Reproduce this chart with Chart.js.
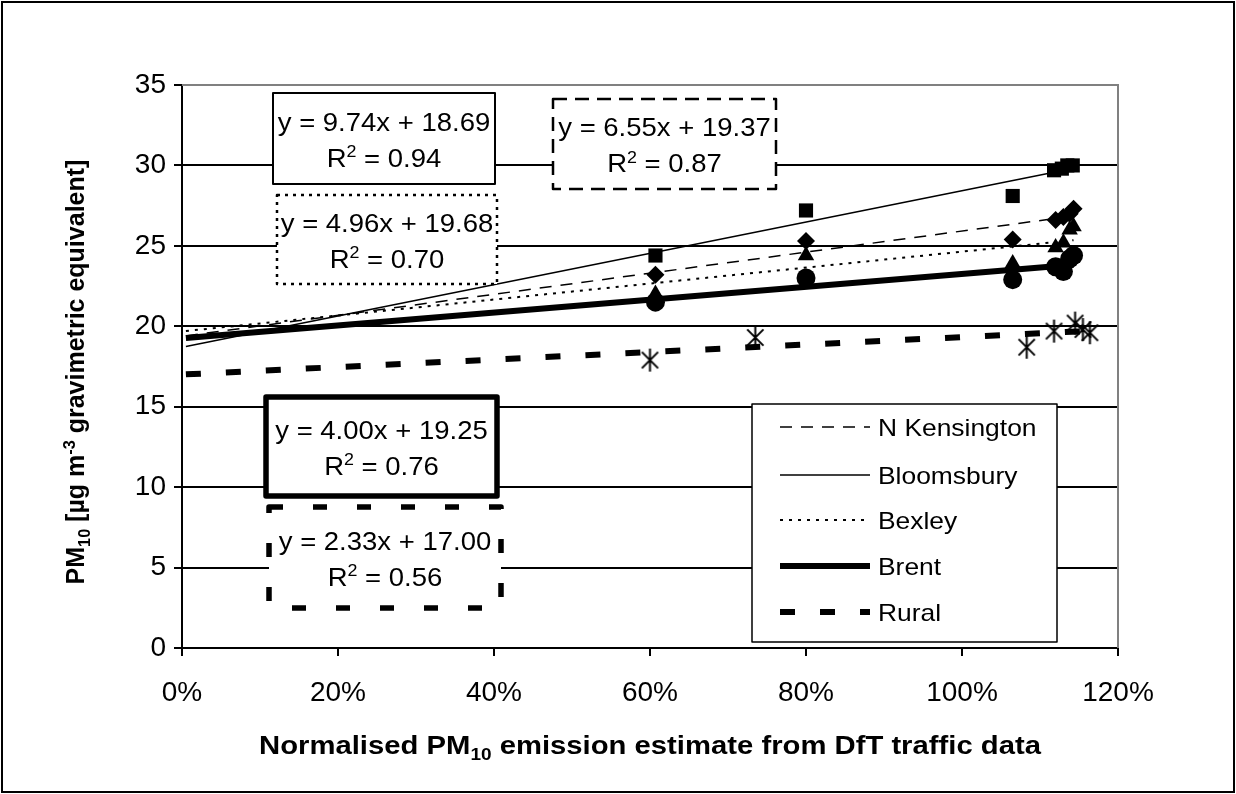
<!DOCTYPE html>
<html><head><meta charset="utf-8">
<script src="https://cdn.jsdelivr.net/npm/chart.js@4/dist/chart.umd.min.js"></script>
<style>html,body{margin:0;padding:0;background:#fff}#wrap{width:1236px;height:794px}</style>
</head><body><div id="wrap"><canvas id="c" width="1236" height="794"></canvas></div>
<script>
// ---- data (x = normalised emission estimate as fraction, y = PM10) ----
const seriesNames = ['N Kensington', 'Bloomsbury', 'Bexley', 'Brent', 'Rural'];
const kensingtonX = [0.607, 0.800, 1.065, 1.120, 1.130, 1.138, 1.143];
const kensingtonY = [23.2, 25.3, 25.4, 26.6, 26.8, 27.0, 27.3];
const bloomsburyX = [0.607, 0.800, 1.065, 1.118, 1.128, 1.135, 1.142];
const bloomsburyY = [24.4, 27.2, 28.1, 29.7, 29.8, 30.0, 30.0];
const bexleyX = [0.607, 0.800, 1.065, 1.120, 1.130, 1.138, 1.143];
const bexleyY = [22.0, 24.4, 23.9, 24.9, 25.2, 26.0, 26.2];
const brentX = [0.607, 0.800, 1.065, 1.120, 1.130, 1.138, 1.143];
const brentY = [21.5, 23.0, 22.9, 23.7, 23.4, 24.2, 24.4];
const ruralX = [0.600, 0.735, 1.083, 1.118, 1.145, 1.155, 1.164];
const ruralY = [17.9, 19.3, 18.7, 19.7, 20.2, 19.8, 19.6];
// trendline equations shown on the chart
const slopes = [6.55, 9.74, 4.96, 4.00, 2.33];
const intercepts = [19.37, 18.69, 19.68, 19.25, 17.00];
const rSquared = ['0.87', '0.94', '0.70', '0.76', '0.56'];
const trendStartX = 0.005;
const yTickValues = [0, 5, 10, 15, 20, 25, 30, 35];
const xTickValues = [0, 0.2, 0.4, 0.6, 0.8, 1.0, 1.2];

const FONT = '"Liberation Sans", Arial, sans-serif';
const xs = [kensingtonX, bloomsburyX, bexleyX, brentX, ruralX];
const ys = [kensingtonY, bloomsburyY, bexleyY, brentY, ruralY];

const lineStyles = [
  {w: 1.5, dash: [12, 9]},
  {w: 1.5, dash: []},
  {w: 2, dash: [3, 6]},
  {w: 6, dash: []},
  {w: 6, dash: [15, 25]}
];

function makeAsterisk(size) {
  const cv = document.createElement('canvas');
  cv.width = size; cv.height = size;
  const g = cv.getContext('2d');
  const c = size / 2, r = size / 2 - 1;
  g.strokeStyle = '#000'; g.lineWidth = 2;
  g.beginPath();
  g.moveTo(c, c - r); g.lineTo(c, c + r);
  const a = Math.PI / 4;
  g.moveTo(c - r * Math.cos(a), c - r * Math.sin(a)); g.lineTo(c + r * Math.cos(a), c + r * Math.sin(a));
  g.moveTo(c - r * Math.cos(a), c + r * Math.sin(a)); g.lineTo(c + r * Math.cos(a), c - r * Math.sin(a));
  g.stroke();
  return cv;
}
const markerStyles = [
  {pointStyle: 'rectRot', radius: 9},
  {pointStyle: 'rect', radius: 10},
  {pointStyle: 'triangle', radius: 9.5},
  {pointStyle: 'circle', radius: 9.5},
  {pointStyle: makeAsterisk(25), radius: 12}
];

const datasets = [];
for (let i = 0; i < 5; i++) {
  const endX = Math.max(...xs[i]);
  datasets.push({
    label: seriesNames[i] + ' trend',
    type: 'line',
    data: [trendStartX, endX].map(x => ({x: x, y: slopes[i] * x + intercepts[i]})),
    borderColor: '#000', borderWidth: lineStyles[i].w, borderDash: lineStyles[i].dash,
    pointRadius: 0, fill: false, tension: 0, order: 2, borderCapStyle: 'butt'
  });
}
for (let i = 0; i < 5; i++) {
  datasets.push({
    label: seriesNames[i],
    type: 'scatter',
    data: xs[i].map((x, k) => ({x: x, y: ys[i][k]})),
    pointStyle: markerStyles[i].pointStyle,
    pointRadius: markerStyles[i].radius,
    backgroundColor: '#000', borderColor: '#000', borderWidth: 0,
    order: 1
  });
}

// rich text with sub/superscripts and horizontal stretch sx
function drawRich(ctx, parts, x, y, size, bold, align, sx) {
  sx = sx || 1;
  const fontOf = p => (bold ? 'bold ' : '') + (p.mode === 'n' ? size : size * 0.65) + 'px ' + FONT;
  const w = parts.map(p => { ctx.font = fontOf(p); return ctx.measureText(p.t).width * sx; });
  const total = w.reduce((a, b) => a + b, 0);
  let cx = align === 'center' ? x - total / 2 : x;
  ctx.textBaseline = 'alphabetic'; ctx.textAlign = 'left';
  parts.forEach((p, i) => {
    ctx.font = fontOf(p);
    let dy = 0;
    if (p.mode === 'sub') dy = size * 0.22;
    if (p.mode === 'sup') dy = -size * 0.38;
    ctx.save();
    ctx.translate(cx, y + dy);
    ctx.scale(sx, 1);
    ctx.fillText(p.t, 0, 0);
    ctx.restore();
    cx += w[i];
  });
}

const boxes = [
  {i: 1, l: 273, t: 93, r: 495, b: 184, w: 2, dash: []},
  {i: 2, l: 277, t: 195, r: 497, b: 284, w: 2.5, dash: [3, 5]},
  {i: 0, l: 553, t: 99, r: 776, b: 189, w: 2.5, dash: [14, 8]},
  {i: 3, l: 266, t: 397, r: 497, b: 496, w: 5.5, dash: []},
  {i: 4, l: 269, t: 507, r: 501, b: 608, w: 5.5, dash: [14, 30]}
];

const decor = {
  id: 'decor',
  beforeDraw(chart) {
    const ctx = chart.ctx;
    ctx.save();
    ctx.fillStyle = '#fff';
    ctx.fillRect(0, 0, chart.width, chart.height);
    ctx.restore();
  },
  afterDraw(chart) {
    const ctx = chart.ctx;
    const a = chart.chartArea;
    ctx.save();
    ctx.strokeStyle = '#808080'; ctx.lineWidth = 2;
    ctx.beginPath();
    ctx.moveTo(a.left, a.top); ctx.lineTo(a.right, a.top); ctx.lineTo(a.right, a.bottom);
    ctx.stroke();
    ctx.strokeStyle = '#000'; ctx.lineWidth = 2;
    ctx.strokeRect(2, 2, chart.width - 4, chart.height - 4);

    boxes.forEach(bx => {
      ctx.fillStyle = '#fff';
      ctx.fillRect(bx.l, bx.t, bx.r - bx.l, bx.b - bx.t);
      ctx.strokeStyle = '#000'; ctx.lineWidth = bx.w; ctx.setLineDash(bx.dash);
      ctx.lineJoin = 'round';
      ctx.strokeRect(bx.l, bx.t, bx.r - bx.l, bx.b - bx.t);
      ctx.setLineDash([]);
      ctx.fillStyle = '#000';
      const cx = (bx.l + bx.r) / 2;
      const cy = (bx.t + bx.b) / 2;
      const eq = 'y = ' + slopes[bx.i].toFixed(2) + 'x + ' + intercepts[bx.i].toFixed(2);
      drawRich(ctx, [{t: eq, mode: 'n'}], cx, cy - 8, 25, false, 'center', 1.1);
      drawRich(ctx, [{t: 'R', mode: 'n'}, {t: '2', mode: 'sup'}, {t: ' = ' + rSquared[bx.i], mode: 'n'}], cx, cy + 28, 25, false, 'center', 1.1);
    });

    const L = {l: 752, t: 404, r: 1057, b: 642};
    ctx.fillStyle = '#fff';
    ctx.fillRect(L.l, L.t, L.r - L.l, L.b - L.t);
    ctx.strokeStyle = '#000'; ctx.lineWidth = 1.5;
    ctx.strokeRect(L.l, L.t, L.r - L.l, L.b - L.t);
    const rows = [427, 475, 520, 566, 612];
    for (let i = 0; i < 5; i++) {
      ctx.strokeStyle = '#000'; ctx.lineWidth = lineStyles[i].w; ctx.setLineDash(lineStyles[i].dash);
      ctx.lineCap = 'butt';
      ctx.beginPath(); ctx.moveTo(780, rows[i]); ctx.lineTo(870, rows[i]); ctx.stroke();
      ctx.setLineDash([]);
      ctx.fillStyle = '#000';
      drawRich(ctx, [{t: seriesNames[i], mode: 'n'}], 878, rows[i] + 9, 24, false, 'left', 1.1);
    }

    ctx.fillStyle = '#000';
    drawRich(ctx, [
      {t: 'Normalised PM', mode: 'n'}, {t: '10', mode: 'sub'},
      {t: ' emission estimate from DfT traffic data', mode: 'n'}
    ], 650, 754, 25, true, 'center', 1.17);
    ctx.save();
    ctx.translate(84, 372);
    ctx.rotate(-Math.PI / 2);
    drawRich(ctx, [
      {t: 'PM', mode: 'n'}, {t: '10', mode: 'sub'}, {t: ' [µg m', mode: 'n'}, {t: '-3', mode: 'sup'},
      {t: ' gravimetric equivalent]', mode: 'n'}
    ], 0, 0, 25, true, 'center', 1);
    ctx.restore();
    ctx.restore();
  }
};

new Chart(document.getElementById('c'), {
  type: 'scatter',
  data: {datasets: datasets},
  options: {
    responsive: false, animation: false, devicePixelRatio: 1,
    layout: {padding: {left: 0, top: 85, right: 118, bottom: 0}},
    plugins: {legend: {display: false}, tooltip: {enabled: false}},
    scales: {
      x: {
        type: 'linear', min: 0, max: 1.2,
        afterBuildTicks: s => { s.ticks = xTickValues.map(v => ({value: v})); },
        afterFit: s => { s.height = 146; },
        ticks: {color: '#000', font: {family: FONT, size: 28}, padding: 20,
          callback: v => Math.round(v * 100) + '%'},
        grid: {drawOnChartArea: false, drawTicks: true, tickLength: 8, color: '#000', lineWidth: 2},
        border: {display: true, color: '#000', width: 2}
      },
      y: {
        min: 0, max: 35,
        afterBuildTicks: s => { s.ticks = yTickValues.map(v => ({value: v})); },
        afterFit: s => { s.width = 182; },
        ticks: {color: '#000', font: {family: FONT, size: 28}, padding: 8},
        grid: {color: '#000', lineWidth: 2, tickLength: 8, drawTicks: true},
        border: {display: true, color: '#000', width: 2}
      }
    }
  },
  plugins: [decor]
});
</script>
</body></html>
